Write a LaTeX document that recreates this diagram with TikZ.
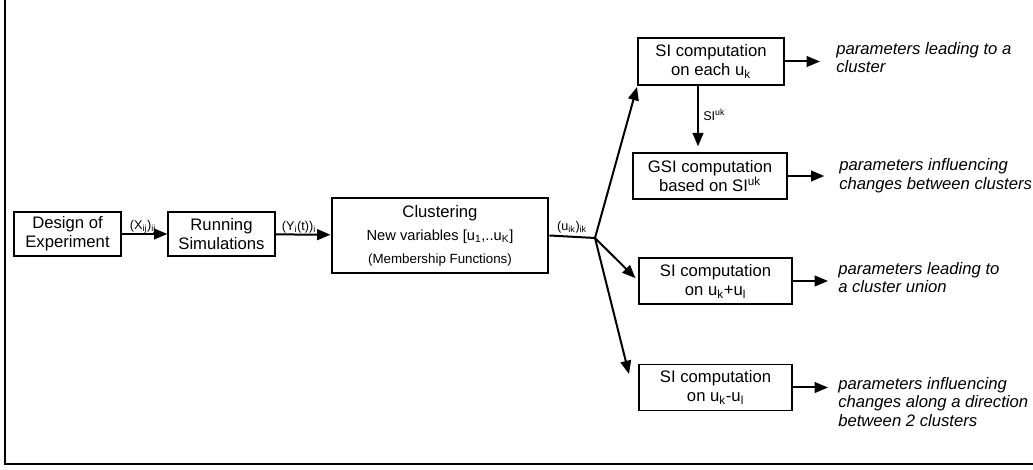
\documentclass[tikz,border=0pt]{standalone}
\usepackage{fontspec}
\setmainfont{Liberation Sans}
\usetikzlibrary{arrows.meta}

\begin{document}
\begin{tikzpicture}[x=0.75pt,y=-0.75pt]
\useasboundingbox (0,0) rectangle (1033,470);
\tikzset{
  blk/.style={draw, line width=1pt, align=center, inner sep=2pt, font=\fontsize{12.5}{14.3}\selectfont},
  lbl/.style={inner sep=0pt, font=\fontsize{9.5}{11}\selectfont},
  res/.style={anchor=west, inner sep=0pt, align=left, font=\fontsize{12.5}{14}\selectfont\itshape},
  arr/.style={line width=1.5pt, -{Triangle[length=10pt,width=8pt]}}
}

\draw[line width=1.2pt] (5,0) -- (5,464) -- (1033,464);

\begin{scope}[every node/.style={blk}]
\node[minimum width=80.25pt, minimum height=33pt] (design) at (67.5,234) {Design of\\Experiment};
\node[minimum width=80.25pt, minimum height=33pt] (run) at (221.5,234) {Running\\Simulations};
\node[line width=2.2pt, minimum width=162pt, minimum height=56.25pt] (clust) at (440,235.5)
  {Clustering\\[3pt]{\fontsize{11}{13}\selectfont New variables [u\textsubscript{1},..u\textsubscript{K}]}\\[3pt]{\fontsize{10}{12}\selectfont (Membership Functions)}};
\node[minimum width=109.5pt, minimum height=35.25pt] (si1) at (711,61.5) {SI computation\\on each u\textsubscript{k}};
\node[minimum width=115.5pt, minimum height=34.5pt] (gsi) at (710,176) {GSI computation\\based on SI\textsuperscript{uk}};
\node[minimum width=114.75pt, minimum height=34.5pt] (si3) at (715.5,281) {SI computation\\on u\textsubscript{k}+u\textsubscript{l}};
\node[minimum width=114.75pt, minimum height=34.5pt] (si4) at (715.5,387.5) {SI computation\\on u\textsubscript{k}-u\textsubscript{l}};
\end{scope}

\node[res] (p1) at (836,57.5) {parameters leading to a\\cluster};
\node[res] (p2) at (839,176) {parameters influencing\\changes between clusters};
\node[res] (p3) at (838,277.5) {parameters leading to\\a cluster union};
\node[res] (p4) at (838,402) {parameters influencing\\changes along a direction\\between 2 clusters};

\node[lbl] (lx) at (143,227) {(X\textsubscript{ij})\textsubscript{ij}};
\node[lbl] (ly) at (299,227) {(Y\textsubscript{i}(t))\textsubscript{i}};
\node[lbl] (lu) at (572,227) {(u\textsubscript{ik})\textsubscript{ik}};
\node[lbl, anchor=west] (lsi) at (703,115) {SI\textsuperscript{uk}};

\coordinate (j) at (595,238);
\coordinate (t4) at (629,374);

\draw[arr] (design) -- (run);
\draw[arr] (run) -- (clust);
\draw[line width=1.5pt] (clust.east) -- (j);
\draw[arr, shorten >=1pt] (j) -- (si1.south west);
\draw[arr, shorten >=3pt] (j) -- (si3.west);
\draw[arr] (j) -- (t4);
\draw[arr, shorten >=4.5pt] ([xshift=-9.75pt]si1.south) -- ([xshift=-9pt]gsi.north);

\draw[arr, shorten >=12pt] (si1.east) -- (si1.east -| p1.west);
\draw[arr, shorten >=11pt] (gsi.east) -- (gsi.east -| p2.west);
\draw[arr, shorten >=7.5pt] (si3.east) -- (si3.east -| p3.west);
\draw[arr, shorten >=7.5pt] (si4.east) -- (si4.east -| p4.west);

\end{tikzpicture}
\end{document}
